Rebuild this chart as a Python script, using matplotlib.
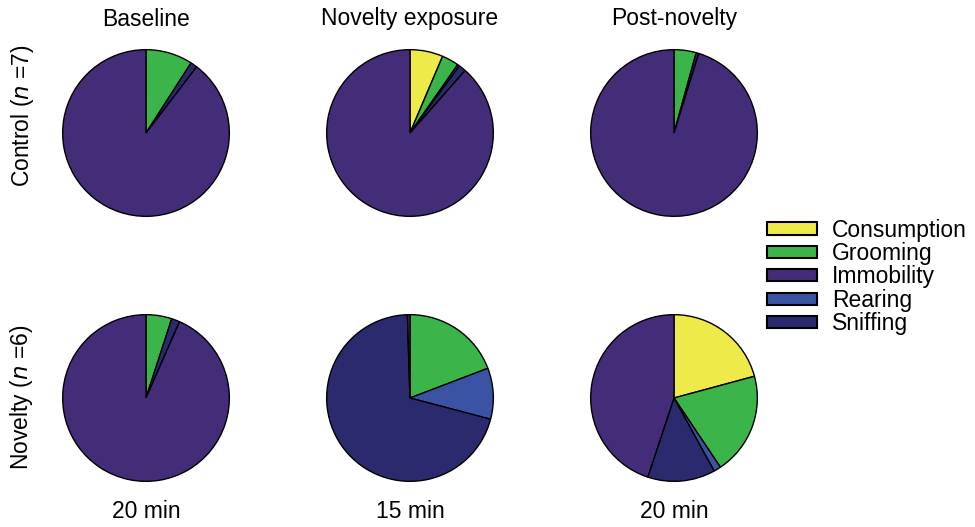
import matplotlib.pyplot as plt
from matplotlib.patches import Patch

plt.rcParams['font.family'] = ['Liberation Sans', 'DejaVu Sans']

# behaviour categories, in clockwise order starting at 12 o'clock
behaviours = ['Consumption', 'Grooming', 'Rearing', 'Sniffing', 'Immobility']
colors = {'Consumption': '#EEEA4A', 'Grooming': '#3BB54A', 'Immobility': '#432C78',
          'Rearing': '#3A53A4', 'Sniffing': '#2B2A6F'}
legend_order = ['Consumption', 'Grooming', 'Immobility', 'Rearing', 'Sniffing']

phases = ['Baseline', 'Novelty exposure', 'Post-novelty']
durations = ['20 min', '15 min', '20 min']
groups = ['Control', 'Novelty']
group_n = [7, 6]

# percentage of time (Consumption, Grooming, Rearing, Sniffing, Immobility)
control_baseline = [0.0, 9.1, 0.0, 1.3, 89.6]
control_exposure = [6.4, 3.3, 0.4, 1.4, 88.5]
control_post = [0.0, 4.3, 0.0, 0.5, 95.2]
novelty_baseline = [0.0, 5.0, 0.0, 1.6, 93.4]
novelty_exposure = [0.0, 19.2, 9.9, 70.4, 0.5]
novelty_post = [20.8, 19.8, 1.4, 13.1, 44.9]

data = [[control_baseline, control_exposure, control_post],
        [novelty_baseline, novelty_exposure, novelty_post]]

W, H = 975, 527
fig = plt.figure(figsize=(W / 100, H / 100), dpi=100)

cx = [146, 410, 674]
cy = [133, 398]
r = 85
fs = 16.5

for i in range(2):
    for j in range(3):
        ax = fig.add_axes([(cx[j] - r) / W, 1 - (cy[i] + r) / H, 2 * r / W, 2 * r / H])
        vals = data[i][j]
        keep = [k for k, v in enumerate(vals) if v > 0]
        ax.pie([vals[k] for k in keep],
               colors=[colors[behaviours[k]] for k in keep],
               startangle=90, counterclock=False, radius=1,
               wedgeprops=dict(edgecolor='black', linewidth=1.0))
        ax.set_xlim(-1.02, 1.02)
        ax.set_ylim(-1.02, 1.02)
        ax.set_aspect('equal')
        ax.axis('off')

# column titles and durations
for j in range(3):
    fig.text(cx[j] / W, 1 - 19 / H, phases[j], ha='center', va='center', fontsize=fs)
    fig.text(cx[j] / W, 1 - 512 / H, durations[j], ha='center', va='center', fontsize=fs)

# row labels
row_y = [116, 397]
for i in range(2):
    fig.text(22 / W, 1 - row_y[i] / H, f'{groups[i]} ($\\it{{n}}$ ={group_n[i]})',
             ha='center', va='center', rotation=90, fontsize=fs)

handles = [Patch(facecolor=colors[b], edgecolor='black', linewidth=1.5, label=b)
           for b in legend_order]
fig.legend(handles=handles, loc='center left', bbox_to_anchor=(767 / W, 1 - 277 / H),
           frameon=False, fontsize=fs, handlelength=2.2, handleheight=0.45,
           handletextpad=0.65, labelspacing=0.02, borderaxespad=0, borderpad=0)

fig.savefig('out.png', dpi=100)
